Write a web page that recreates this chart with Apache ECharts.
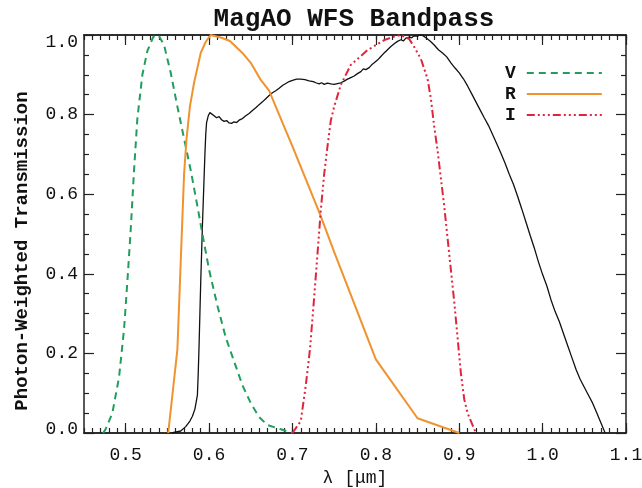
<!DOCTYPE html>
<html>
<head>
<meta charset="utf-8">
<script src="https://cdn.jsdelivr.net/npm/echarts@6/dist/echarts.min.js"></script>
<style>html,body{margin:0;padding:0;background:#fff}#c{width:642px;height:488px}</style>
</head>
<body>
<div id="c"></div>
<script>
// ---- data (wavelength in micron, photon-weighted transmission) ----
var vBand = [[0.473,0],[0.476,0.01],[0.484,0.05],[0.492,0.14],[0.498,0.26],[0.502,0.38],[0.506,0.51],[0.510,0.66],[0.514,0.79],[0.520,0.90],[0.526,0.96],[0.533,0.995],[0.537,1.0],[0.540,0.997],[0.546,0.975],[0.554,0.905],[0.562,0.82],[0.570,0.74],[0.578,0.66],[0.586,0.57],[0.592,0.50],[0.600,0.41],[0.610,0.32],[0.620,0.24],[0.630,0.18],[0.640,0.12],[0.650,0.075],[0.660,0.04],[0.670,0.02],[0.685,0.01],[0.700,0.0]];
var rBand = [[0.551,0],[0.562,0.21],[0.566,0.43],[0.570,0.65],[0.573,0.74],[0.577,0.82],[0.582,0.88],[0.590,0.955],[0.596,0.983],[0.602,1.0],[0.615,0.993],[0.625,0.985],[0.640,0.955],[0.650,0.93],[0.662,0.887],[0.672,0.86],[0.690,0.77],[0.700,0.72],[0.733,0.55],[0.750,0.455],[0.800,0.185],[0.850,0.037],[0.900,0.0]];
var iBand = [[0.700,0],[0.710,0.03],[0.716,0.12],[0.721,0.21],[0.726,0.34],[0.730,0.45],[0.734,0.56],[0.738,0.65],[0.742,0.72],[0.746,0.785],[0.750,0.82],[0.758,0.875],[0.770,0.925],[0.790,0.962],[0.810,0.987],[0.820,0.995],[0.830,1.0],[0.840,0.99],[0.846,0.97],[0.854,0.94],[0.858,0.915],[0.862,0.89],[0.866,0.84],[0.870,0.77],[0.874,0.71],[0.878,0.64],[0.882,0.57],[0.886,0.49],[0.890,0.41],[0.894,0.33],[0.898,0.24],[0.902,0.15],[0.906,0.085],[0.910,0.05],[0.914,0.03],[0.920,0]];
var wfs = [[0.555,0],[0.566,0.005],[0.572,0.016],[0.577,0.03],[0.580,0.042],[0.583,0.06],[0.586,0.095],[0.587,0.15],[0.588,0.22],[0.589,0.30],[0.590,0.38],[0.591,0.45],[0.592,0.52],[0.593,0.58],[0.594,0.64],[0.595,0.70],[0.596,0.75],[0.597,0.78],[0.599,0.797],[0.601,0.805],[0.603,0.803],[0.606,0.797],[0.609,0.792],[0.612,0.795],[0.615,0.787],[0.618,0.783],[0.621,0.785],[0.624,0.779],[0.627,0.778],[0.630,0.782],[0.633,0.78],[0.636,0.786],[0.640,0.79],[0.644,0.797],[0.648,0.803],[0.652,0.81],[0.656,0.817],[0.660,0.825],[0.664,0.832],[0.668,0.84],[0.672,0.848],[0.676,0.855],[0.680,0.86],[0.684,0.866],[0.688,0.873],[0.692,0.878],[0.696,0.883],[0.700,0.886],[0.705,0.889],[0.710,0.889],[0.715,0.888],[0.720,0.885],[0.725,0.883],[0.728,0.880],[0.732,0.877],[0.735,0.880],[0.738,0.876],[0.742,0.879],[0.746,0.877],[0.750,0.876],[0.754,0.878],[0.758,0.880],[0.762,0.884],[0.766,0.889],[0.770,0.893],[0.774,0.897],[0.778,0.903],[0.782,0.908],[0.785,0.915],[0.788,0.913],[0.792,0.918],[0.795,0.925],[0.798,0.93],[0.802,0.937],[0.806,0.946],[0.810,0.955],[0.814,0.963],[0.818,0.971],[0.822,0.978],[0.826,0.984],[0.830,0.988],[0.833,0.985],[0.836,0.992],[0.840,0.995],[0.843,0.993],[0.846,0.998],[0.850,0.997],[0.853,1.0],[0.856,0.999],[0.860,0.993],[0.865,0.985],[0.870,0.975],[0.875,0.963],[0.880,0.955],[0.885,0.945],[0.890,0.93],[0.895,0.917],[0.900,0.905],[0.905,0.89],[0.910,0.872],[0.915,0.852],[0.920,0.832],[0.925,0.812],[0.930,0.792],[0.935,0.773],[0.940,0.75],[0.945,0.727],[0.950,0.703],[0.955,0.678],[0.960,0.65],[0.965,0.625],[0.970,0.595],[0.975,0.563],[0.980,0.53],[0.985,0.497],[0.990,0.465],[0.995,0.43],[1.000,0.398],[1.005,0.37],[1.010,0.335],[1.015,0.305],[1.020,0.28],[1.025,0.25],[1.030,0.22],[1.035,0.19],[1.040,0.16],[1.045,0.135],[1.050,0.115],[1.055,0.095],[1.060,0.075],[1.065,0.05],[1.070,0.025],[1.075,0]];
var xTicks = [0.5,0.6,0.7,0.8,0.9,1.0,1.1];
var yTicks = [0.0,0.2,0.4,0.6,0.8,1.0];
var seriesNames = ['V','R','I'];
var titleText = 'MagAO WFS Bandpass';
var xTitle = 'λ [μm]';
var yTitle = 'Photon-Weighted Transmission';

var FONT = '"Liberation Mono", "DejaVu Sans Mono", monospace';
var AX = '#222';
var chart = echarts.init(document.getElementById('c'), null, {renderer:'canvas'});

function xAx(pos, major, labels){
  var a = {
    type:'value', min:0.45, max:1.1, position:pos, gridIndex:0,
    splitLine:{show:false},
    axisLine:{show:true, onZero:false, lineStyle:{color:AX, width:1.5}},
    axisTick:{show:true, inside:true, length: major?10:5, lineStyle:{color:AX, width:1.2}},
    axisLabel:{show:false}
  };
  if (major) { a.axisTick.customValues = xTicks; }
  else { a.interval = 0.01; }
  if (labels) {
    a.axisLabel = {show:true, customValues:xTicks, margin:13, color:'#111',
      fontFamily:FONT, fontSize:18, formatter:function(v){return v.toFixed(1);}};
    a.name = xTitle; a.nameLocation='middle'; a.nameGap=35;
    a.nameTextStyle = {fontFamily:FONT, fontSize:18, color:'#111'};
  }
  return a;
}
function yAx(pos, labels){
  var a = {
    type:'value', min:0, max:1, interval:0.2, position:pos, gridIndex:0,
    splitLine:{show:false},
    axisLine:{show:true, onZero:false, lineStyle:{color:AX, width:1.5}},
    axisTick:{show:true, inside:true, length:10, lineStyle:{color:AX, width:1.2}},
    minorTick:{show:true, splitNumber:4, length:5, lineStyle:{color:AX, width:1.2}},
    axisLabel:{show:false}
  };
  if (labels) {
    a.axisLabel = {show:true, margin:6, color:'#111', fontFamily:FONT, fontSize:18,
      formatter:function(v){
        var s = v.toFixed(1);
        if (v <= 0) return '{lo|' + s + '}';
        if (v >= 1) return '{hi|' + s + '}';
        return s;
      },
      rich:{
        lo:{fontFamily:FONT, fontSize:18, color:'#111', padding:[0,0,8,0]},
        hi:{fontFamily:FONT, fontSize:18, color:'#111', padding:[14,0,0,0]}
      }};
    a.name = yTitle; a.nameLocation='middle'; a.nameGap=52; a.nameRotate=90;
    a.nameTextStyle = {fontFamily:FONT, fontSize:19, fontWeight:'bold', color:'#111', padding:[0,34,0,0]};
  }
  return a;
}

var option = {
  animation:false,
  backgroundColor:'#fff',
  title:{text:titleText, left:349, textAlign:'center', top:1,
    textStyle:{fontFamily:FONT, fontSize:26, fontWeight:'bold', color:'#111'}},
  grid:{left:84, top:35, width:542, height:398, containLabel:false, outerBoundsMode:'none'},
  legend:{data:seriesNames, orient:'vertical', left:500, top:59, align:'right',
    itemWidth:75, itemHeight:14, itemGap:3,
    itemStyle:{opacity:0},
    textStyle:{fontFamily:FONT, fontSize:18, fontWeight:'bold', color:'#111', padding:[0,6,0,0]}},
  xAxis:[xAx('bottom',false,false), xAx('bottom',true,true), xAx('top',false,false), xAx('top',true,false)],
  yAxis:[yAx('left',true), yAx('right',false)],
  series:[
    {name:'WFS', type:'line', data:wfs, symbol:'none', xAxisIndex:0, yAxisIndex:0,
      lineStyle:{color:'#111', width:1.3}, z:2},
    {name:'V', type:'line', data:vBand, symbol:'none', xAxisIndex:0, yAxisIndex:0,
      itemStyle:{color:'#1f9e5c'}, lineStyle:{color:'#1f9e5c', width:2, type:[7,5]}, z:3},
    {name:'R', type:'line', data:rBand, symbol:'none', xAxisIndex:0, yAxisIndex:0,
      itemStyle:{color:'#f0922e'}, lineStyle:{color:'#f0922e', width:2}, z:3},
    {name:'I', type:'line', data:iBand, symbol:'none', xAxisIndex:0, yAxisIndex:0,
      itemStyle:{color:'#e0243c'}, lineStyle:{color:'#e0243c', width:2, type:[8,3,2,3,2,3,2,3]}, z:3}
  ]
};
chart.setOption(option);
</script>
</body>
</html>
